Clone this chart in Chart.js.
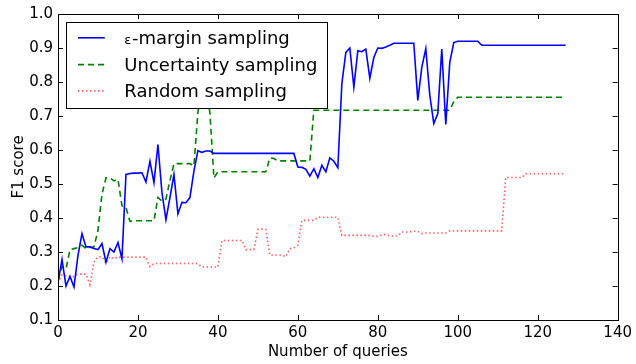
<!DOCTYPE html>
<html>
<head>
<meta charset="utf-8">
<script src="https://cdn.jsdelivr.net/npm/chart.js@4.4.1/dist/chart.umd.min.js"></script>
<style>
  html, body { margin: 0; padding: 0; background: #fff; }
  #wrap { width: 636px; height: 364px; }
</style>
</head>
<body>
<div id="wrap"><canvas id="chart" width="636" height="364"></canvas></div>
<script>
// values, one per query (0..127)
const marginF1 = [
  0.21, 0.278, 0.20, 0.228, 0.197, 0.29, 0.354, 0.315, 0.315, 0.31,
  0.307, 0.325, 0.27, 0.31, 0.30, 0.328, 0.28, 0.528, 0.531, 0.532,
  0.532, 0.533, 0.506, 0.567, 0.504, 0.616, 0.475, 0.395, 0.46, 0.528,
  0.412, 0.446, 0.445, 0.46, 0.538, 0.598, 0.593, 0.597, 0.597, 0.59,
  0.59, 0.59, 0.59, 0.59, 0.59, 0.59, 0.59, 0.59, 0.59, 0.59,
  0.59, 0.59, 0.59, 0.59, 0.59, 0.59, 0.59, 0.59, 0.59, 0.59,
  0.55, 0.549, 0.543, 0.523, 0.545, 0.519, 0.555, 0.536, 0.577, 0.567,
  0.548, 0.795, 0.887, 0.90, 0.785, 0.892, 0.889, 0.897, 0.811, 0.872,
  0.90, 0.899, 0.903, 0.908, 0.914, 0.914, 0.914, 0.914, 0.914, 0.914,
  0.746, 0.843, 0.898, 0.761, 0.678, 0.707, 0.897, 0.675, 0.858, 0.916,
  0.92, 0.92, 0.92, 0.92, 0.92, 0.92, 0.908, 0.908, 0.908, 0.908,
  0.908, 0.908, 0.908, 0.908, 0.908, 0.908, 0.908, 0.908, 0.908, 0.908,
  0.908, 0.908, 0.908, 0.908, 0.908, 0.908, 0.908, 0.908
];
const uncertaintyF1 = [
  0.218, 0.257, 0.25, 0.307, 0.31, 0.313, 0.32, 0.31, 0.313, 0.315,
  0.364, 0.47, 0.518, 0.518, 0.509, 0.514, 0.436, 0.431, 0.39, 0.392,
  0.392, 0.392, 0.392, 0.392, 0.392, 0.46, 0.45, 0.456, 0.51, 0.56,
  0.56, 0.56, 0.56, 0.56, 0.553, 0.712, 0.78, 0.78, 0.71, 0.518,
  0.536, 0.536, 0.536, 0.536, 0.536, 0.536, 0.536, 0.536, 0.536, 0.536,
  0.536, 0.536, 0.536, 0.577, 0.575, 0.568, 0.568, 0.568, 0.568, 0.568,
  0.568, 0.568, 0.568, 0.568, 0.717, 0.717, 0.717, 0.717, 0.717, 0.717,
  0.717, 0.717, 0.717, 0.717, 0.717, 0.717, 0.717, 0.717, 0.717, 0.717,
  0.717, 0.717, 0.717, 0.717, 0.717, 0.717, 0.717, 0.717, 0.717, 0.717,
  0.717, 0.717, 0.717, 0.717, 0.717, 0.717, 0.717, 0.717, 0.717, 0.742,
  0.755, 0.755, 0.755, 0.755, 0.755, 0.755, 0.755, 0.755, 0.755, 0.755,
  0.755, 0.755, 0.755, 0.755, 0.755, 0.755, 0.755, 0.755, 0.755, 0.755,
  0.755, 0.755, 0.755, 0.755, 0.755, 0.755, 0.755, 0.755
];
const randomF1 = [
  0.209, 0.233, 0.23, 0.228, 0.228, 0.235, 0.235, 0.235, 0.204, 0.27,
  0.286, 0.286, 0.267, 0.286, 0.28, 0.285, 0.285, 0.285, 0.285, 0.285,
  0.285, 0.285, 0.285, 0.257, 0.266, 0.266, 0.266, 0.266, 0.266, 0.266,
  0.266, 0.266, 0.266, 0.266, 0.266, 0.266, 0.256, 0.256, 0.256, 0.256,
  0.256, 0.334, 0.334, 0.334, 0.334, 0.334, 0.334, 0.307, 0.307, 0.307,
  0.366, 0.368, 0.366, 0.291, 0.291, 0.291, 0.291, 0.286, 0.31, 0.312,
  0.32, 0.393, 0.393, 0.393, 0.393, 0.402, 0.402, 0.402, 0.402, 0.402,
  0.402, 0.349, 0.349, 0.349, 0.349, 0.349, 0.349, 0.349, 0.349, 0.346,
  0.346, 0.351, 0.351, 0.347, 0.347, 0.347, 0.359, 0.359, 0.359, 0.361,
  0.361, 0.354, 0.356, 0.356, 0.356, 0.356, 0.356, 0.356, 0.362, 0.362,
  0.362, 0.362, 0.362, 0.362, 0.362, 0.362, 0.362, 0.362, 0.362, 0.362,
  0.362, 0.362, 0.519, 0.519, 0.519, 0.519, 0.519, 0.53, 0.53, 0.53,
  0.53, 0.53, 0.53, 0.53, 0.53, 0.53, 0.53, 0.53
];
const seriesNames = ['-margin sampling', 'Uncertainty sampling', 'Random sampling'];
const xTicks = [0, 20, 40, 60, 80, 100, 120, 140];
const yTicks = [0.1, 0.2, 0.3, 0.4, 0.5, 0.6, 0.7, 0.8, 0.9, 1.0];

function toPoints(arr) {
    return arr.map((v, i) => ({ x: i, y: v }));
}

const font = 'DejaVu Sans';

// matplotlib style: full frame, inward ticks on all four sides
const framePlugin = {
    id: 'frame',
    afterDraw(chart) {
        const ctx = chart.ctx;
        const a = chart.chartArea;
        const xs = chart.scales.x, ys = chart.scales.y;
        const len = 5;
        ctx.save();
        ctx.strokeStyle = '#000';
        ctx.lineWidth = 1;
        ctx.beginPath();
        xTicks.forEach(t => {
            const px = Math.round(xs.getPixelForValue(t)) + 0.5;
            ctx.moveTo(px, a.bottom); ctx.lineTo(px, a.bottom - len);
            ctx.moveTo(px, a.top); ctx.lineTo(px, a.top + len);
        });
        yTicks.forEach(t => {
            const py = Math.round(ys.getPixelForValue(t)) + 0.5;
            ctx.moveTo(a.left, py); ctx.lineTo(a.left + len, py);
            ctx.moveTo(a.right, py); ctx.lineTo(a.right - len, py);
        });
        ctx.stroke();
        ctx.strokeRect(Math.round(a.left) + 0.5, Math.round(a.top) + 0.5,
            Math.round(a.right - a.left), Math.round(a.bottom - a.top));
        ctx.restore();
    }
};

// legend box drawn inside the axes, over the lines
const boxLegend = {
    id: 'boxLegend',
    afterDatasetsDraw(chart) {
        const ctx = chart.ctx;
        const xs = chart.scales.x, ys = chart.scales.y;
        const left = Math.round(xs.getPixelForValue(2)) + 0.5;
        const right = Math.round(xs.getPixelForValue(67.3)) + 0.5;
        const top = Math.round(ys.getPixelForValue(0.977)) + 0.5;
        const bottom = Math.round(ys.getPixelForValue(0.725)) + 0.5;
        ctx.save();
        ctx.fillStyle = '#fff';
        ctx.fillRect(left, top, right - left, bottom - top);
        ctx.strokeStyle = '#000';
        ctx.lineWidth = 1;
        ctx.strokeRect(left, top, right - left, bottom - top);
        const rows = [0.93, 0.851, 0.774];
        chart.data.datasets.forEach((ds, i) => {
            const y = ys.getPixelForValue(rows[i]);
            ctx.beginPath();
            ctx.strokeStyle = ds.borderColor;
            ctx.lineWidth = ds.borderWidth;
            ctx.setLineDash(ds.borderDash || []);
            ctx.moveTo(xs.getPixelForValue(5), y);
            ctx.lineTo(xs.getPixelForValue(11.7), y);
            ctx.stroke();
            ctx.setLineDash([]);
            ctx.fillStyle = '#000';
            ctx.textBaseline = 'alphabetic';
            const base = y + 6.5;
            let tx = xs.getPixelForValue(16.6);
            if (i === 0) {
                ctx.font = '13px "' + font + '"';
                ctx.fillText('\u03b5', tx, base);
                tx += ctx.measureText('\u03b5').width + 0.5;
            }
            ctx.font = '18px "' + font + '"';
            ctx.fillText(ds.label, tx, base);
        });
        ctx.restore();
    }
};

const ctx = document.getElementById('chart').getContext('2d');
const chart = new Chart(ctx, {
    type: 'line',
    data: {
        datasets: [{
            label: seriesNames[0],
            data: toPoints(marginF1),
            borderColor: '#0000ff',
            borderWidth: 1.6,
            pointRadius: 0,
            tension: 0
        }, {
            label: seriesNames[1],
            data: toPoints(uncertaintyF1),
            borderColor: '#008000',
            borderWidth: 1.6,
            borderDash: [6, 4],
            pointRadius: 0,
            tension: 0
        }, {
            label: seriesNames[2],
            data: toPoints(randomF1),
            borderColor: 'rgba(255, 40, 40, 0.75)',
            borderWidth: 1.6,
            borderDash: [1.5, 2.5],
            pointRadius: 0,
            tension: 0
        }]
    },
    options: {
        responsive: false,
        animation: false,
        events: [],
        layout: { padding: { top: 11, right: 14, left: 0, bottom: 0 } },
        plugins: {
            legend: { display: false },
            tooltip: { enabled: false }
        },
        scales: {
            x: {
                type: 'linear',
                min: 0,
                max: 140,
                afterFit(scale) { scale.height = 44; },
                afterBuildTicks(scale) { scale.ticks = xTicks.map(v => ({ value: v })); },
                grid: { display: false, drawTicks: false },
                border: { display: false },
                ticks: {
                    color: '#000',
                    padding: 4,
                    maxRotation: 0,
                    font: { family: font, size: 15 }
                },
                title: {
                    display: true,
                    text: 'Number of queries',
                    color: '#000',
                    padding: { top: 0, bottom: 3 },
                    font: { family: font, size: 15 }
                }
            },
            y: {
                min: 0.1,
                max: 1.0,
                afterFit(scale) { scale.width = 58; },
                afterBuildTicks(scale) { scale.ticks = yTicks.map(v => ({ value: v })); },
                grid: { display: false, drawTicks: false },
                border: { display: false },
                ticks: {
                    color: '#000',
                    padding: 5,
                    font: { family: font, size: 15 },
                    callback: v => v.toFixed(1)
                },
                title: {
                    display: true,
                    text: 'F1 score',
                    color: '#000',
                    padding: { top: 10, bottom: 0 },
                    font: { family: font, size: 15 }
                }
            }
        }
    },
    plugins: [boxLegend, framePlugin]
});
</script>
</body>
</html>
